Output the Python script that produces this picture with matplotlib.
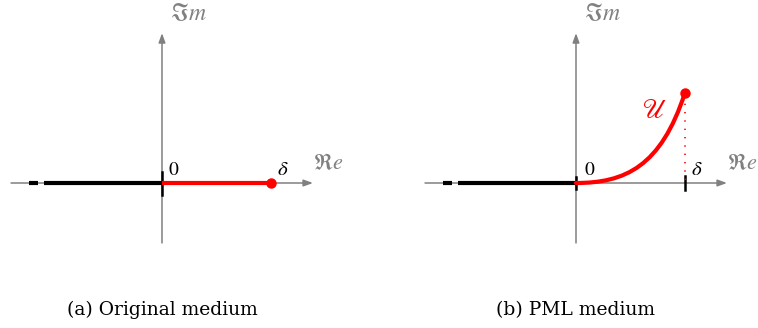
import matplotlib.pyplot as plt
from matplotlib.path import Path
from matplotlib.patches import PathPatch

plt.rcParams['mathtext.fontset'] = 'stix'
plt.rcParams['font.family'] = 'DejaVu Serif'

# data, in units of delta
delta = 1.0
cut_dash = [-1.22, -1.14]
cut_solid = [-1.08, 0.0]
re_axis = [-1.385, 1.385]
im_axis = [-0.55, 1.375]
# PML curve U as a cubic Bezier (control points)
u_re = [0.0, 0.45, 0.78, 1.0]
u_im = [0.0, 0.0, 0.15, 0.829]
captions = ["(a) Original medium", "(b) PML medium"]

GREY = "#808080"
RED = "#ff0000"
PX = 109.0  # pixels per unit
W, H = 758, 328
ORIG_Y = 183


def setup(ax, x0_px, x_left_px, width_px):
    ax.set_xlim((x_left_px - x0_px) / PX, (x_left_px + width_px - x0_px) / PX)
    ax.set_ylim((ORIG_Y - H) / PX, ORIG_Y / PX)
    ax.axis('off')
    arrow = dict(arrowstyle='-|>,head_length=0.55,head_width=0.2', color=GREY, lw=1.1,
                 shrinkA=0, shrinkB=0)
    ax.annotate('', xy=(re_axis[1], 0), xytext=(re_axis[0], 0), arrowprops=arrow, zorder=1)
    ax.annotate('', xy=(0, im_axis[1]), xytext=(0, im_axis[0]), arrowprops=arrow, zorder=1)
    ax.plot(cut_dash, [0, 0], color='black', lw=3.0, solid_capstyle='butt', zorder=3)
    ax.plot(cut_solid, [0, 0], color='black', lw=3.0, solid_capstyle='butt', zorder=3)
    ax.text(re_axis[1], 0.13, r'$\Re e$', color=GREY, fontsize=16, ha='left', va='baseline')
    ax.text(0.245, im_axis[1] + 0.12, r'$\Im m$', color=GREY, fontsize=17, ha='center', va='baseline')


fig = plt.figure(figsize=(W / 100, H / 100), dpi=100)

# (a) original medium
ax1 = fig.add_axes([0, 0, 0.5, 1])
setup(ax1, 162, 0, W / 2)
ax1.plot([0, 0], [-0.11, 0.1], color='black', lw=1.8, zorder=4)
ax1.plot([0, delta], [0, 0], color=RED, lw=3.0, solid_capstyle='butt', zorder=4)
ax1.plot([delta], [0], 'o', color=RED, ms=6.5, zorder=5)
ax1.text(0.11, 0.07, r'$0$', fontsize=14, ha='center', va='baseline')
ax1.text(delta + 0.11, 0.07, r'$\delta$', fontsize=15, ha='center', va='baseline')

# (b) PML medium
ax2 = fig.add_axes([0.5, 0, 0.5, 1])
setup(ax2, 576, W / 2, W / 2)
ax2.plot([0, 0], [-0.055, 0.055], color='black', lw=1.8, zorder=4)
ax2.plot([delta, delta], [-0.065, 0.065], color='black', lw=1.8, zorder=4)
ax2.plot([delta, delta], [0.03, u_im[-1]], color=RED, lw=1.2, ls=(0, (0.8, 4.2)), zorder=4)
curve = Path(list(zip(u_re, u_im)), [Path.MOVETO, Path.CURVE4, Path.CURVE4, Path.CURVE4])
ax2.add_patch(PathPatch(curve, facecolor='none', edgecolor=RED, lw=3.0, capstyle='round', zorder=4))
ax2.plot([u_re[-1]], [u_im[-1]], 'o', color=RED, ms=6.5, zorder=5)
ax2.text(0.13, 0.07, r'$0$', fontsize=14, ha='center', va='baseline')
ax2.text(delta + 0.11, 0.07, r'$\delta$', fontsize=15, ha='center', va='baseline')
ax2.text(0.72, 0.6, r'$\mathscr{U}$', color=RED, fontsize=20, ha='center', va='baseline')

for cx, cap in zip([162, 576], captions):
    fig.text(cx / W, 1 - 310 / H, cap, fontsize=13.5, ha='center', va='center')

fig.savefig('out.png', dpi=100)
